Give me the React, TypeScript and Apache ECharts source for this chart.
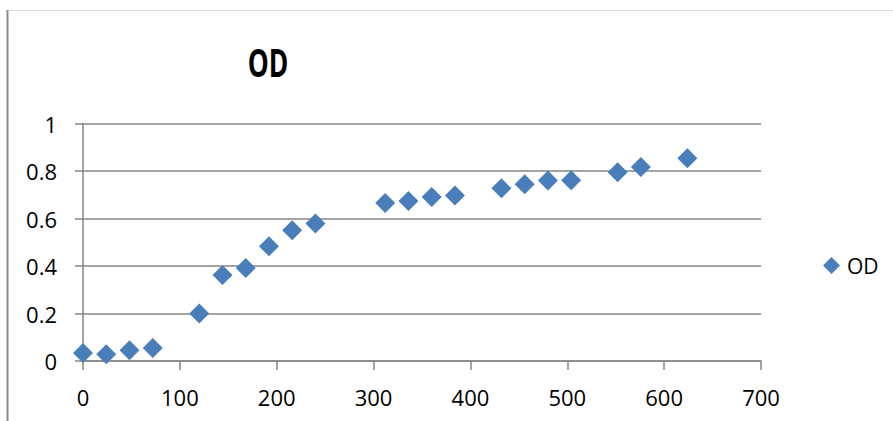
import React, { useEffect, useRef } from "react";
import * as echarts from "echarts";

// Sampling times (hours) and measured optical density
const hours = [0, 24, 48, 72, 120, 144, 168, 192, 216, 240, 312, 336, 360, 384, 432, 456, 480, 504, 552, 576, 624];
const odValues = [0.034, 0.028, 0.045, 0.055, 0.2, 0.362, 0.392, 0.483, 0.551, 0.579, 0.665, 0.674, 0.691, 0.697, 0.727, 0.744, 0.76, 0.761, 0.795, 0.817, 0.854];

const seriesName = "OD";
const titleText = "OD";

const FONT = '"Open Sans", "Liberation Sans", sans-serif';
const AXIS_GRAY = "#868686";
const MARKER_BLUE = "#4A7EBB";

export default function App() {
  const ref = useRef<HTMLDivElement>(null);

  useEffect(() => {
    if (!ref.current) return;
    const chart = echarts.init(ref.current, undefined, { renderer: "svg" });
    const points = hours.map((h, i) => [h, odValues[i]]);

    chart.setOption({
      animation: false,
      backgroundColor: "#ffffff",
      textStyle: { fontFamily: FONT },
      graphic: [
        {
          type: "line",
          shape: { x1: 8, y1: 10.5, x2: 893, y2: 10.5 },
          style: { stroke: "#dcdcdc", lineWidth: 1 },
          silent: true,
        },
        {
          type: "line",
          shape: { x1: 7.5, y1: 10, x2: 7.5, y2: 421 },
          style: { stroke: "#8a8a8a", lineWidth: 2 },
          silent: true,
        },
        {
          type: "text",
          x: 268,
          y: 62,
          scaleX: 0.66,
          style: {
            text: titleText,
            fontFamily: FONT,
            fontSize: 40,
            fontWeight: "bold",
            fill: "#000000",
            textAlign: "center",
            textVerticalAlign: "middle",
          },
          silent: true,
        },
      ],
      legend: {
        data: [{ name: seriesName, icon: "diamond" }],
        orient: "vertical",
        left: 818,
        top: 250,
        itemWidth: 17,
        itemHeight: 17,
        itemGap: 6,
        itemStyle: { opacity: 1 },
        textStyle: { fontFamily: FONT, fontSize: 21, color: "#000000", padding: [0, 0, 0, 2] },
      },
      grid: { left: 83, right: 132, top: 123.5, bottom: 60, containLabel: false },
      xAxis: {
        type: "value",
        min: 0,
        max: 700,
        interval: 100,
        axisLine: { show: true, onZero: false, lineStyle: { color: AXIS_GRAY, width: 1.5 } },
        axisTick: { show: true, inside: false, length: 9, lineStyle: { color: AXIS_GRAY, width: 1.5 } },
        axisLabel: { margin: 25, fontFamily: FONT, fontSize: 22, color: "#000000" },
        splitLine: { show: false },
      },
      yAxis: {
        type: "value",
        min: 0,
        max: 1,
        interval: 0.2,
        axisLine: { show: true, lineStyle: { color: AXIS_GRAY, width: 1.5 } },
        axisTick: { show: true, inside: false, length: 8, lineStyle: { color: AXIS_GRAY, width: 1.5 } },
        axisLabel: { margin: 26, fontFamily: FONT, fontSize: 22, color: "#000000" },
        splitLine: { show: true, lineStyle: { color: AXIS_GRAY, width: 1.5 } },
      },
      series: [
        {
          name: seriesName,
          type: "scatter",
          symbol: "diamond",
          symbolSize: 20,
          clip: false,
          itemStyle: { color: MARKER_BLUE, opacity: 1 },
          data: points,
        },
      ],
    });

    return () => chart.dispose();
  }, []);

  return <div ref={ref} style={{ width: 893, height: 421, position: "absolute", left: 0, top: 0 }} />;
}
